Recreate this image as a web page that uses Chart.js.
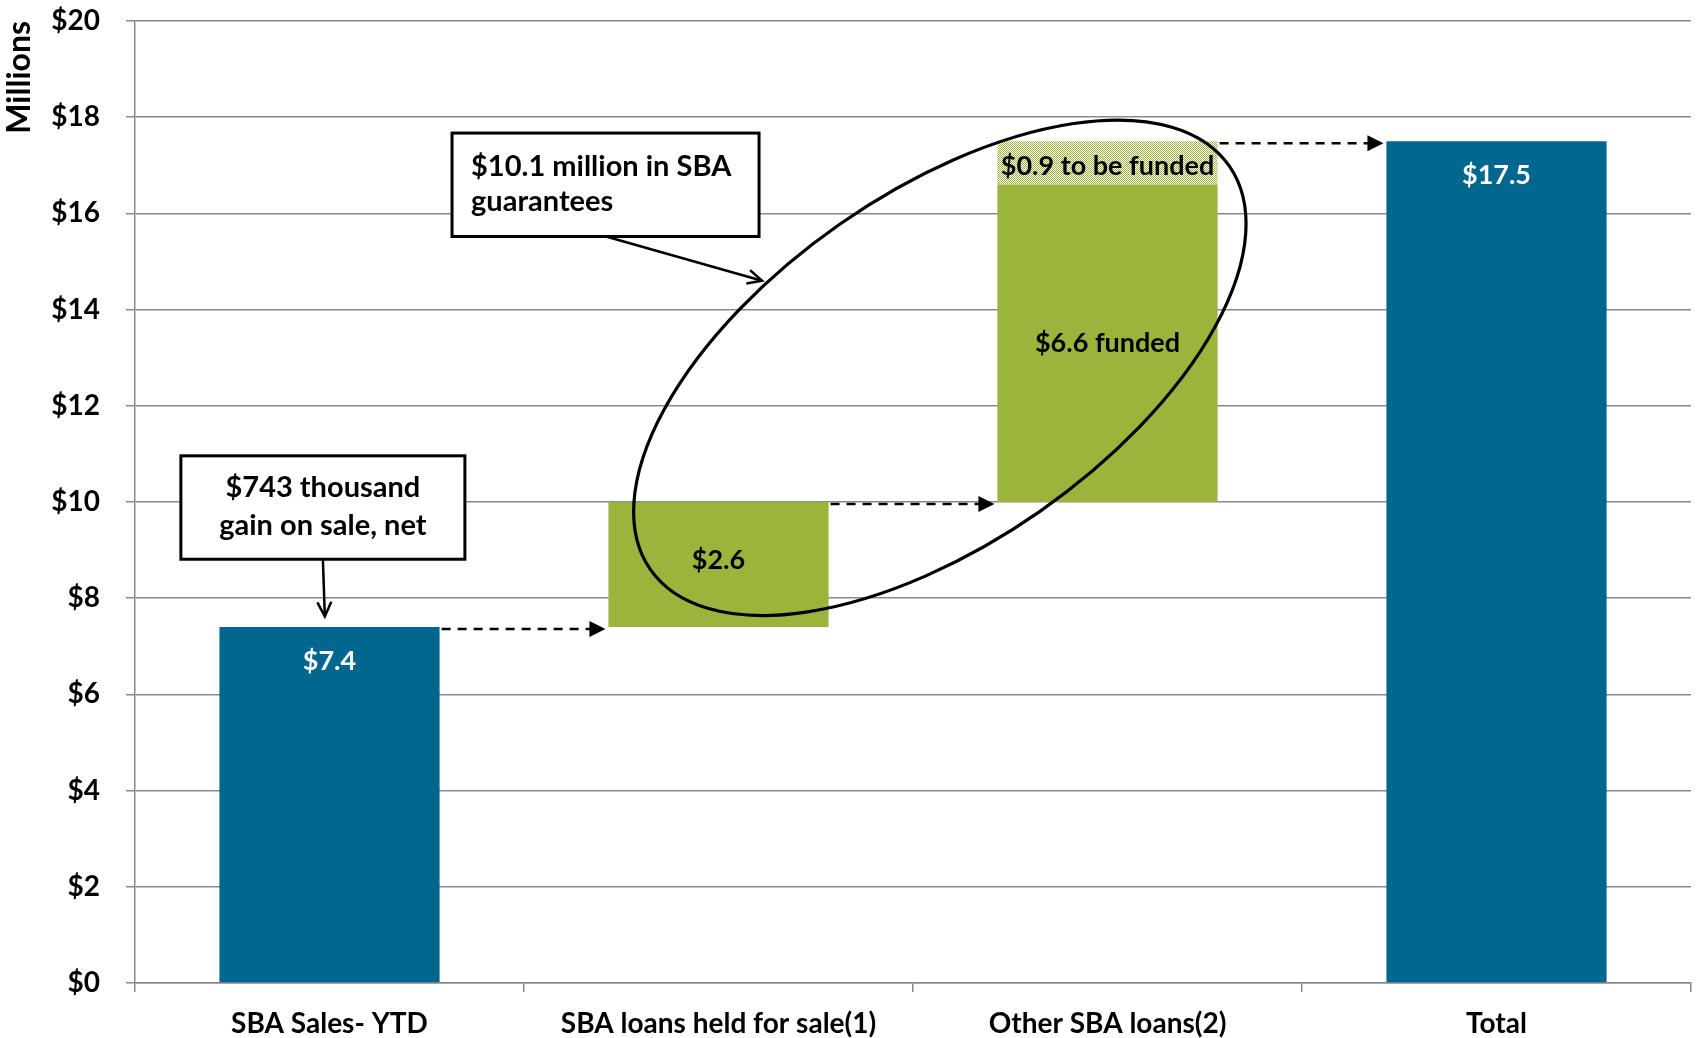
<!DOCTYPE html>
<html>
<head>
<meta charset="utf-8">
<script src="https://cdn.jsdelivr.net/npm/chart.js@4.4.1/dist/chart.umd.min.js"></script>
<style>
  html, body { margin: 0; padding: 0; background: #fff; }
  #wrap { width: 1696px; height: 1038px; }
</style>
</head>
<body>
<div id="wrap"><canvas id="barCanvas"></canvas></div>
<script>
const categories = ["SBA Sales- YTD", "SBA loans held for sale(1)", "Other SBA loans(2)", "Total"];
const barStart = [0, 7.4, 10.0, 0];
const barEnd = [7.4, 10.0, 16.6, 17.5];
const pendingStart = [null, null, 16.6, null];
const pendingEnd = [null, null, 17.5, null];
const barLabels = ["$7.4", "$2.6", "$6.6 funded", "$17.5"];
const pendingLabels = ["", "", "$0.9 to be funded", ""];
const yMax = 20;
const yStep = 2;

const blue = "#02678f";
const green = "#9bb43b";
const gridGray = "#8a8a8a";
const fontName = "Lato";

Chart.defaults.font.family = fontName;

// checkered fill for the part still to be funded
const pc = document.createElement("canvas");
pc.width = 2; pc.height = 2;
const pctx = pc.getContext("2d");
pctx.fillStyle = "#ffffff";
pctx.fillRect(0, 0, 2, 2);
pctx.fillStyle = green;
pctx.fillRect(0, 0, 1, 1);
pctx.fillRect(1, 1, 1, 1);
const hatch = pctx.createPattern(pc, "repeat");

function arrowHeadOpen(ctx, x1, y1, x2, y2, len) {
    const a = Math.atan2(y2 - y1, x2 - x1);
    ctx.beginPath();
    ctx.moveTo(x2 - len * Math.cos(a - 0.45), y2 - len * Math.sin(a - 0.45));
    ctx.lineTo(x2, y2);
    ctx.lineTo(x2 - len * Math.cos(a + 0.45), y2 - len * Math.sin(a + 0.45));
    ctx.stroke();
}

const annotations = {
    id: "annotations",
    afterDraw(chart) {
        const ctx = chart.ctx;
        const x = chart.scales.x;
        const y = chart.scales.y;
        const main = chart.getDatasetMeta(0).data;
        const extra = chart.getDatasetMeta(1).data;
        const cw = x.getPixelForValue(1) - x.getPixelForValue(0);
        const catX = (v) => x.getPixelForValue(0) + v * cw;

        ctx.save();
        // bar labels
        ctx.font = "bold 27px " + fontName;
        ctx.textAlign = "center";
        ctx.textBaseline = "middle";
        main.forEach((el, i) => {
            const top = Math.min(el.y, el.base);
            const bot = Math.max(el.y, el.base);
            if (i === 0 || i === 3) {
                ctx.fillStyle = "#ffffff";
                ctx.fillText(barLabels[i], el.x, top + 34);
            } else {
                ctx.fillStyle = "#000000";
                ctx.fillText(barLabels[i], el.x, (top + bot) / 2 - (i === 1 ? 4 : 0));
            }
        });
        extra.forEach((el, i) => {
            if (!pendingLabels[i]) return;
            const top = Math.min(el.y, el.base);
            const bot = Math.max(el.y, el.base);
            ctx.fillStyle = "#000000";
            ctx.fillText(pendingLabels[i], el.x, (top + bot) / 2 + 3);
        });

        // dashed connectors
        ctx.strokeStyle = "#000";
        ctx.fillStyle = "#000";
        ctx.lineWidth = 2.5;
        for (let i = 0; i < main.length - 1; i++) {
            const level = Math.max(barEnd[i], pendingEnd[i] || 0);
            const yy = y.getPixelForValue(level) + 2;
            const x1 = main[i].x + main[i].width / 2 + 2;
            const x2 = main[i + 1].x - main[i + 1].width / 2 - 3;
            ctx.setLineDash([9, 7]);
            ctx.beginPath();
            ctx.moveTo(x1, yy);
            ctx.lineTo(x2 - 14, yy);
            ctx.stroke();
            ctx.setLineDash([]);
            ctx.beginPath();
            ctx.moveTo(x2, yy);
            ctx.lineTo(x2 - 16, yy - 8);
            ctx.lineTo(x2 - 16, yy + 8);
            ctx.closePath();
            ctx.fill();
        }

        // ellipse round the SBA guarantees
        ctx.lineWidth = 3.2;
        ctx.beginPath();
        ctx.ellipse(catX(1.569), y.getPixelForValue(12.79), 0.907 * cw, 0.45 * cw,
            -34.9 * Math.PI / 180, 0, Math.PI * 2);
        ctx.stroke();

        // callout 1
        ctx.font = "bold 29px " + fontName;
        let bx = catX(-0.017), bw = 284;
        let bt = y.getPixelForValue(10.96), bb = y.getPixelForValue(8.81);
        ctx.fillStyle = "#fff";
        ctx.fillRect(bx - bw / 2, bt, bw, bb - bt);
        ctx.lineWidth = 3;
        ctx.strokeRect(bx - bw / 2, bt, bw, bb - bt);
        ctx.fillStyle = "#000";
        ctx.textAlign = "center";
        ctx.fillText("$743 thousand", bx, bt + 32);
        ctx.fillText("gain on sale, net", bx, bt + 70);
        ctx.lineWidth = 2.5;
        let ax2 = catX(-0.012), ay2 = y.getPixelForValue(7.62);
        ctx.beginPath();
        ctx.moveTo(bx, bb);
        ctx.lineTo(ax2, ay2);
        ctx.stroke();
        arrowHeadOpen(ctx, bx, bb, ax2, ay2, 16);

        // callout 2
        bx = catX(0.315); bw = 307;
        bt = y.getPixelForValue(17.67); bb = y.getPixelForValue(15.52);
        ctx.fillStyle = "#fff";
        ctx.fillRect(bx, bt, bw, bb - bt);
        ctx.lineWidth = 3;
        ctx.strokeRect(bx, bt, bw, bb - bt);
        ctx.fillStyle = "#000";
        ctx.textAlign = "left";
        ctx.fillText("$10.1 million in SBA", bx + 19, bt + 34);
        ctx.fillText("guarantees", bx + 19, bt + 69);
        ctx.lineWidth = 2.5;
        const sx = bx + 154;
        ax2 = catX(1.112); ay2 = y.getPixelForValue(14.6);
        ctx.beginPath();
        ctx.moveTo(sx, bb);
        ctx.lineTo(ax2, ay2);
        ctx.stroke();
        arrowHeadOpen(ctx, sx, bb, ax2, ay2, 16);
        ctx.restore();
    }
};

const barCanvas = document.getElementById("barCanvas");

const barChart = new Chart(barCanvas, {
    type: "bar",
    data: {
        labels: categories,
        datasets: [{
            data: barStart.map((s, i) => [s, barEnd[i]]),
            backgroundColor: [blue, green, green, blue],
            grouped: false,
            barPercentage: 0.566,
            categoryPercentage: 1.0
        }, {
            data: pendingStart.map((s, i) => s === null ? null : [s, pendingEnd[i]]),
            backgroundColor: hatch,
            grouped: false,
            barPercentage: 0.566,
            categoryPercentage: 1.0
        }]
    },
    options: {
        responsive: true,
        maintainAspectRatio: false,
        animation: false,
        layout: {
            padding: { top: 21, right: 5, left: 0, bottom: 0 }
        },
        plugins: {
            legend: { display: false },
            tooltip: { enabled: false }
        },
        scales: {
            x: {
                grid: {
                    offset: true,
                    drawOnChartArea: false,
                    tickLength: 9,
                    color: gridGray,
                    lineWidth: 1.5
                },
                border: { color: gridGray, width: 1.5 },
                ticks: {
                    color: "#000",
                    padding: 15,
                    font: { size: 28, weight: "bold" }
                },
                afterFit(scale) { scale.height = 55; }
            },
            y: {
                min: 0,
                max: yMax,
                ticks: {
                    stepSize: yStep,
                    color: "#000",
                    padding: 26,
                    font: { size: 28, weight: "bold" },
                    callback: (v) => "$" + v
                },
                grid: {
                    color: gridGray,
                    lineWidth: 1.5,
                    tickLength: 9
                },
                border: { color: gridGray, width: 1.5 },
                title: {
                    display: true,
                    text: "Millions",
                    align: "end",
                    color: "#000",
                    padding: 0,
                    font: { size: 32, weight: "bold" }
                },
                afterFit(scale) {
                    scale.width = 135;
                    scale.paddingTop = 0;
                    scale.paddingBottom = 0;
                }
            }
        }
    },
    plugins: [annotations]
});
</script>
</body>
</html>
